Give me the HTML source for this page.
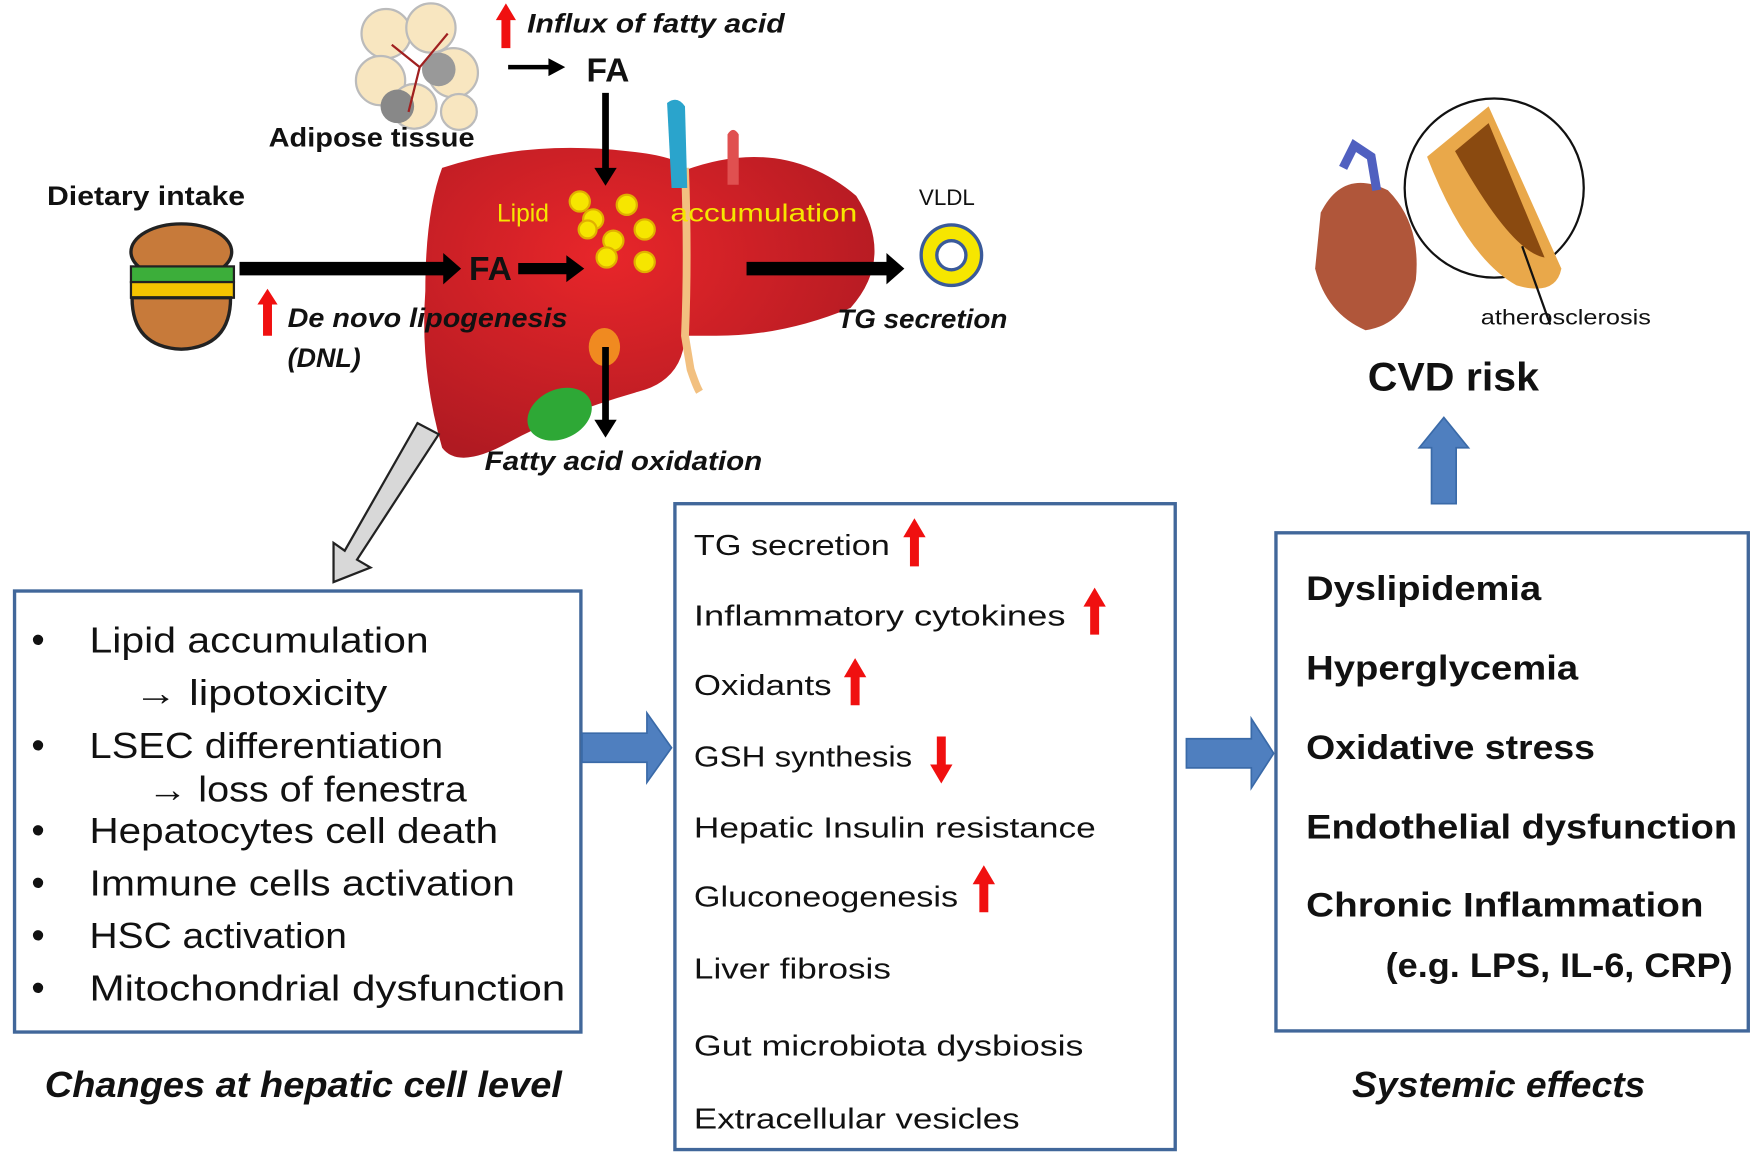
<!DOCTYPE html>
<html><head><meta charset="utf-8"><style>
html,body{margin:0;padding:0;background:#fff;}
svg{display:block;}
text{font-family:"Liberation Sans",sans-serif;}
</style></head><body>
<svg width="1755" height="1163" viewBox="0 0 1568 1039" preserveAspectRatio="none" xmlns="http://www.w3.org/2000/svg">
<defs>
<radialGradient id="lv" cx="0.4" cy="0.35" r="0.7"><stop offset="0" stop-color="#e8262a"/><stop offset="1" stop-color="#b01a22"/></radialGradient>
</defs>
<!-- adipose -->
<g stroke="#bbb" stroke-width="2" fill="#f8e6c0">
<circle cx="345" cy="30" r="22"/><circle cx="385" cy="25" r="22"/><circle cx="340" cy="72" r="22"/><circle cx="405" cy="65" r="22"/><circle cx="370" cy="95" r="20"/><circle cx="410" cy="100" r="16"/>
</g>
<circle cx="392" cy="62" r="15" fill="#999"/><circle cx="355" cy="95" r="15" fill="#888"/>
<path d="M350,40 L375,60 L400,30 M375,60 L365,100" stroke="#a02020" stroke-width="2" fill="none"/>
<!-- liver -->
<path d="M395,150 Q470,125 560,135 Q610,140 612,152 Q700,120 765,175 Q800,230 760,275 Q700,300 640,300 L612,300 Q610,340 570,350 Q500,370 455,395 Q410,420 395,400 Q375,330 380,260 Q380,190 395,150z" fill="url(#lv)"/>
<path d="M612,150 Q615,230 612,300 L617,330 Q622,345 625,350" stroke="#f2c080" stroke-width="7" fill="none"/>
<path d="M596,92 Q605,85 612,95 L614,168 L600,168z" fill="#2aa4cc"/>
<path d="M650,120 Q655,112 660,120 L660,165 L650,165z" fill="#e05050"/>
<ellipse cx="500" cy="370" rx="30" ry="22" fill="#2ea836" transform="rotate(-25 500 370)"/>
<ellipse cx="540" cy="310" rx="14" ry="17" fill="#f08a20"/>
<g fill="#f6e600" stroke="#e0b000" stroke-width="2">
<circle cx="518" cy="180" r="9"/><circle cx="530" cy="196" r="9"/><circle cx="560" cy="183" r="9"/><circle cx="548" cy="215" r="9"/><circle cx="576" cy="205" r="9"/><circle cx="542" cy="230" r="9"/><circle cx="576" cy="234" r="9"/><circle cx="525" cy="205" r="8"/>
</g>
<!-- burger -->
<ellipse cx="162" cy="225" rx="45" ry="25" fill="#c77a3a" stroke="#222" stroke-width="3"/>
<rect x="117" y="238" width="92" height="14" fill="#3cae3a" stroke="#222" stroke-width="2"/>
<rect x="117" y="252" width="92" height="14" fill="#f5c400" stroke="#222" stroke-width="2"/>
<path d="M118,266 L206,266 Q206,310 162,312 Q118,310 118,266z" fill="#c77a3a" stroke="#222" stroke-width="3"/>
<!-- VLDL -->
<circle cx="850" cy="228" r="27" fill="#f6e600" stroke="#3a5a9a" stroke-width="3"/>
<circle cx="850" cy="228" r="13" fill="#fff" stroke="#3a5a9a" stroke-width="3"/>
<!-- heart / artery -->
<path d="M1180,190 Q1200,150 1240,170 Q1270,200 1265,250 Q1255,290 1220,295 Q1185,280 1175,240z" fill="#b0563a"/>
<path d="M1200,150 L1210,130 L1225,140 L1230,170" stroke="#5060c0" stroke-width="8" fill="none"/>
<circle cx="1335" cy="168" r="80" fill="#fff" stroke="#111" stroke-width="2"/>
<path d="M1275,140 L1330,95 L1395,240 Q1390,265 1355,255 Q1310,230 1275,140z" fill="#e9a84a"/>
<path d="M1300,135 L1330,110 L1380,230 Q1350,225 1300,135z" fill="#8a4a10"/>
<line x1="1360" y1="220" x2="1385" y2="290" stroke="#111" stroke-width="2"/>
<!-- black arrows -->
<g fill="#000">
<path d="M214,234 L396,234 L396,226 L412,240 L396,254 L396,246 L214,246z"/>
<path d="M463,235 L506,235 L506,228 L522,240 L506,252 L506,245 L463,245z"/>
<path d="M667,234 L792,234 L792,226 L808,240 L792,254 L792,246 L667,246z"/>
<path d="M538,83 L544,83 L544,150 L551,150 L541,166 L531,150 L538,150z"/>
<path d="M538,310 L544,310 L544,375 L551,375 L541,391 L531,375 L538,375z"/>
<path d="M454,58 L490,58 L490,52 L505,60 L490,68 L490,62 L454,62z"/>
</g>
<!-- red arrows top -->
<g fill="#f01010">
<path d="M448,43 L448,18 L443,18 L452,3 L461,18 L456,18 L456,43z"/>
<path d="M235,300 L235,272 L230,272 L239,258 L248,272 L243,272 L243,300z"/>
</g>
<!-- gray arrow -->
<path d="M373,378 L392,388 L319,500 L331,507 L298,520 L298,485 L308,492 L373,378z" fill="#d8d8d8" stroke="#222" stroke-width="2"/>
<!-- boxes -->
<g fill="none" stroke="#41679a" stroke-width="3">
<rect x="13" y="528" width="506" height="394"/>
<rect x="603" y="450" width="447" height="577"/>
<rect x="1140" y="476" width="422" height="445"/>
</g>
<!-- blue arrows -->
<g fill="#4f7fbf" stroke="#3a6aa8" stroke-width="1.5">
<path d="M520,655 L578,655 L578,637 L600,668 L578,699 L578,681 L520,681z"/>
<path d="M1060,660 L1118,660 L1118,642 L1138,673 L1118,704 L1118,686 L1060,686z"/>
<path d="M1279,450 L1279,400 L1268,400 L1290,373 L1312,400 L1301,400 L1301,450z"/>
</g>
<!-- red arrows middle -->
<g fill="#f01010">
<path d="M813,506 L813,480 L807,480 L817,463 L827,480 L821,480 L821,506z"/>
<path d="M974,567 L974,542 L968,542 L978,525 L988,542 L982,542 L982,567z"/>
<path d="M760,630 L760,605 L754,605 L764,588 L774,605 L768,605 L768,630z"/>
<path d="M837,658 L837,683 L831,683 L841,700 L851,683 L845,683 L845,658z"/>
<path d="M875,815 L875,790 L869,790 L879,773 L889,790 L883,790 L883,815z"/>
</g>
<!-- top texts -->
<g font-weight="bold" fill="#111">
<text x="42" y="183" font-size="24" textLength="177" lengthAdjust="spacingAndGlyphs">Dietary intake</text>
<text x="240" y="131" font-size="24" textLength="184" lengthAdjust="spacingAndGlyphs">Adipose tissue</text>
<text x="471" y="29" font-size="24" font-style="italic" textLength="230" lengthAdjust="spacingAndGlyphs">Influx of fatty acid</text>
<text x="524" y="73" font-size="30">FA</text>
<text x="419" y="250" font-size="30">FA</text>
<text x="257" y="292" font-size="24" font-style="italic" textLength="250" lengthAdjust="spacingAndGlyphs">De novo lipogenesis</text>
<text x="257" y="328" font-size="24" font-style="italic">(DNL)</text>
<text x="748" y="293" font-size="24" font-style="italic" textLength="152" lengthAdjust="spacingAndGlyphs">TG secretion</text>
<text x="433" y="420" font-size="24" font-style="italic" textLength="248" lengthAdjust="spacingAndGlyphs">Fatty acid oxidation</text>
<text x="1222" y="349" font-size="36" textLength="153" lengthAdjust="spacingAndGlyphs">CVD risk</text>
</g>
<text x="444" y="198" font-size="22" fill="#f6e600">Lipid</text>
<text x="599" y="198" font-size="22" fill="#f6e600" textLength="167" lengthAdjust="spacingAndGlyphs">accumulation</text>
<text x="821" y="183" font-size="20" fill="#111">VLDL</text>
<text x="1323" y="290" font-size="19" fill="#111" textLength="152" lengthAdjust="spacingAndGlyphs">atherosclerosis</text>
<!-- left box -->
<g font-size="32" fill="#111">
<text x="28" y="583" font-size="34">•</text><text x="80" y="583" textLength="303" lengthAdjust="spacingAndGlyphs">Lipid accumulation</text>
<text x="120" y="630" textLength="226" lengthAdjust="spacingAndGlyphs">→ lipotoxicity</text>
<text x="28" y="677" font-size="34">•</text><text x="80" y="677" textLength="316" lengthAdjust="spacingAndGlyphs">LSEC differentiation</text>
<text x="132" y="716" textLength="285" lengthAdjust="spacingAndGlyphs">→ loss of fenestra</text>
<text x="28" y="753" font-size="34">•</text><text x="80" y="753" textLength="365" lengthAdjust="spacingAndGlyphs">Hepatocytes cell death</text>
<text x="28" y="800" font-size="34">•</text><text x="80" y="800" textLength="380" lengthAdjust="spacingAndGlyphs">Immune cells activation</text>
<text x="28" y="847" font-size="34">•</text><text x="80" y="847" textLength="230" lengthAdjust="spacingAndGlyphs">HSC activation</text>
<text x="28" y="894" font-size="34">•</text><text x="80" y="894" textLength="425" lengthAdjust="spacingAndGlyphs">Mitochondrial dysfunction</text>
</g>
<!-- middle box -->
<g font-size="26" fill="#111">
<text x="620" y="496" textLength="175" lengthAdjust="spacingAndGlyphs">TG secretion</text>
<text x="620" y="559" textLength="332" lengthAdjust="spacingAndGlyphs">Inflammatory cytokines</text>
<text x="620" y="621" textLength="123" lengthAdjust="spacingAndGlyphs">Oxidants</text>
<text x="620" y="685" textLength="195" lengthAdjust="spacingAndGlyphs">GSH synthesis</text>
<text x="620" y="748" textLength="359" lengthAdjust="spacingAndGlyphs">Hepatic Insulin resistance</text>
<text x="620" y="810" textLength="236" lengthAdjust="spacingAndGlyphs">Gluconeogenesis</text>
<text x="620" y="874" textLength="176" lengthAdjust="spacingAndGlyphs">Liver fibrosis</text>
<text x="620" y="943" textLength="348" lengthAdjust="spacingAndGlyphs">Gut microbiota dysbiosis</text>
<text x="620" y="1008" textLength="291" lengthAdjust="spacingAndGlyphs">Extracellular vesicles</text>
</g>
<!-- right box -->
<g font-size="31" font-weight="bold" fill="#111">
<text x="1167" y="536" textLength="210" lengthAdjust="spacingAndGlyphs">Dyslipidemia</text>
<text x="1167" y="607" textLength="243" lengthAdjust="spacingAndGlyphs">Hyperglycemia</text>
<text x="1167" y="678" textLength="258" lengthAdjust="spacingAndGlyphs">Oxidative stress</text>
<text x="1167" y="749" textLength="385" lengthAdjust="spacingAndGlyphs">Endothelial dysfunction</text>
<text x="1167" y="819" textLength="355" lengthAdjust="spacingAndGlyphs">Chronic Inflammation</text>
<text x="1238" y="873" textLength="310" lengthAdjust="spacingAndGlyphs">(e.g. LPS, IL-6, CRP)</text>
</g>
<!-- captions -->
<g font-size="32" font-weight="bold" font-style="italic" fill="#111">
<text x="40" y="980" textLength="462" lengthAdjust="spacingAndGlyphs">Changes at hepatic cell level</text>
<text x="1208" y="980" textLength="262" lengthAdjust="spacingAndGlyphs">Systemic effects</text>
</g>
</svg>
</body></html>
